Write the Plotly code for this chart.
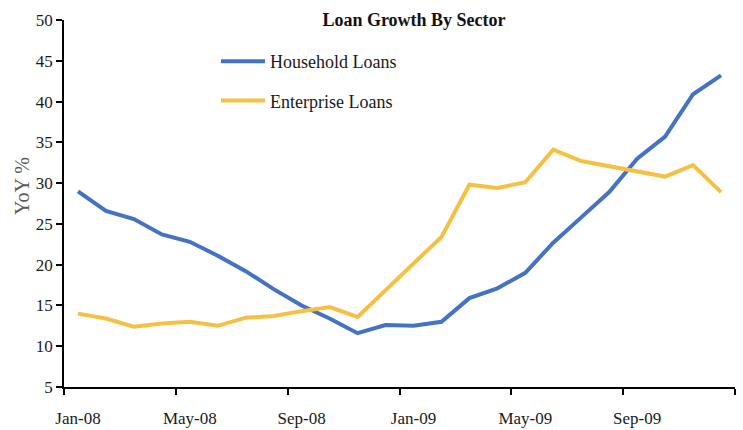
import plotly.graph_objects as go

months = ["Jan-08", "Feb-08", "Mar-08", "Apr-08", "May-08", "Jun-08", "Jul-08", "Aug-08",
          "Sep-08", "Oct-08", "Nov-08", "Dec-08", "Jan-09", "Feb-09", "Mar-09", "Apr-09",
          "May-09", "Jun-09", "Jul-09", "Aug-09", "Sep-09", "Oct-09", "Nov-09", "Dec-09"]
household = [29.0, 26.6, 25.6, 23.7, 22.8, 21.1, 19.2, 17.0, 15.0, 13.4, 11.6, 12.6,
             12.5, 13.0, 15.9, 17.1, 19.0, 22.7, 25.8, 28.9, 33.0, 35.7, 40.9, 43.2]
enterprise = [14.0, 13.4, 12.4, 12.8, 13.0, 12.5, 13.5, 13.7, 14.3, 14.8, 13.6, 16.9,
              20.2, 23.4, 29.8, 29.4, 30.1, 34.1, 32.7, 32.1, 31.4, 30.8, 32.2, 28.9]
ytick_vals = [5, 10, 15, 20, 25, 30, 35, 40, 45, 50]

idx = list(range(len(months)))
label_idx = idx[::4]
boundaries = [i - 0.5 for i in idx[::4]] + [idx[-1] + 0.5]

serif = "Liberation Serif, Times New Roman, serif"
W, H = 743, 430

fig = go.Figure()
fig.add_trace(go.Scatter(x=idx, y=household, mode="lines", name="Household Loans",
                         line=dict(color="#4472C4", width=4), legendgroup="a"))
fig.add_trace(go.Scatter(x=idx, y=enterprise, mode="lines", name="Enterprise Loans",
                         line=dict(color="#F6C142", width=4), legendgroup="b"))
# invisible trace to drive the label axis
fig.add_trace(go.Scatter(x=[idx[0]], y=[None], xaxis="x2", showlegend=False,
                         hoverinfo="skip", mode="lines"))

fig.update_layout(
    width=W, height=H,
    margin=dict(l=64, r=8, t=20, b=43, autoexpand=False),
    plot_bgcolor="white", paper_bgcolor="white",
    font=dict(family=serif, size=17, color="#1a1a1a"),
    title=dict(text="<b>Loan Growth By Sector</b>", x=414 / W, xanchor="center",
               xref="container", y=1 - 20 / H, yref="container", yanchor="middle",
               font=dict(family=serif, size=18, color="#111111")),
    legend=dict(x=(216 - 64) / 671, y=(387 - 43) / 367, xanchor="left", yanchor="top",
                bgcolor="rgba(0,0,0,0)", font=dict(family=serif, size=18, color="#1a1a1a"),
                tracegroupgap=13, itemwidth=44),
    xaxis=dict(range=[-0.5, idx[-1] + 0.5], tickmode="array", tickvals=boundaries,
               ticktext=["" for _ in boundaries], ticks="outside", ticklen=6,
               tickcolor="black", tickwidth=1.5, showline=True, linecolor="black",
               linewidth=1.5, showgrid=False, zeroline=False, automargin=False),
    xaxis2=dict(range=[-0.5, idx[-1] + 0.5], overlaying="x", anchor="y", side="bottom",
                tickmode="array", tickvals=label_idx,
                ticktext=[months[i] for i in label_idx],
                ticks="outside", ticklen=16, tickcolor="rgba(0,0,0,0)",
                showline=False, showgrid=False, zeroline=False, automargin=False,
                tickfont=dict(family=serif, size=17, color="#1a1a1a")),
    yaxis=dict(range=[5, 50], tickmode="array", tickvals=ytick_vals, ticks="outside",
               ticklen=6, tickcolor="black", tickwidth=1.5, showline=True,
               linecolor="black", linewidth=1.5, showgrid=False, zeroline=False,
               automargin=False,
               tickfont=dict(family=serif, size=17, color="#1a1a1a")),
    annotations=[dict(text="YoY %", xref="paper", yref="paper", x=-42 / 671,
                      y=(387 - 186) / 367, xanchor="center", yanchor="middle",
                      textangle=-90, showarrow=False,
                      font=dict(family=serif, size=20, color="#5a5a5a"))],
)

fig.write_html("out.html", config={"displayModeBar": False},
               post_script="document.body.style.margin='0px';")
